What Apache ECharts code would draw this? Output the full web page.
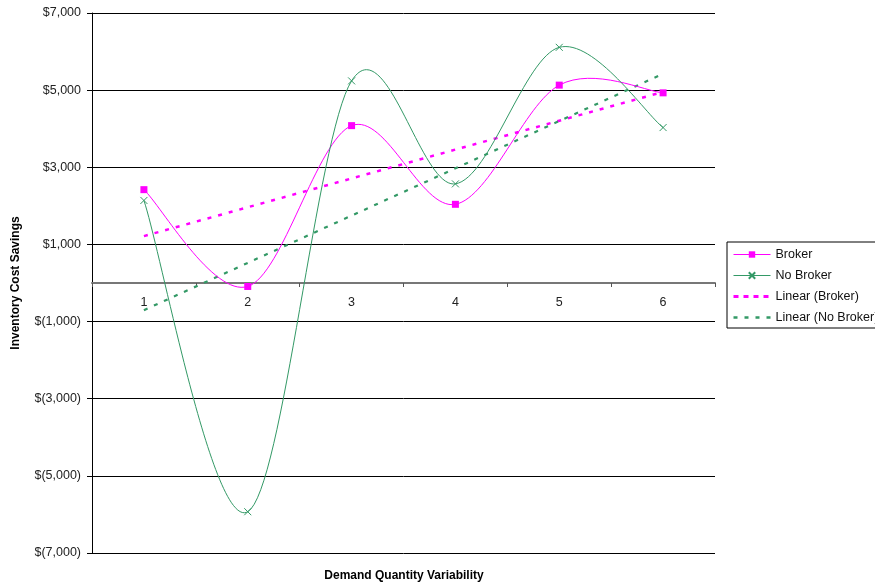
<!DOCTYPE html>
<html>
<head>
<meta charset="utf-8">
<script src="https://cdn.jsdelivr.net/npm/echarts@6/dist/echarts.min.js"></script>
<style>
  html, body { margin: 0; padding: 0; background: #fff; }
  #chart { width: 875px; height: 586px; }
</style>
</head>
<body>
<div id="chart"></div>
<script>
// Demand variability levels on the x axis
const categories = ['1', '2', '3', '4', '5', '6'];
// Inventory cost savings ($) per variability level
const brokerValues = [2420, -90, 4080, 2040, 5130, 4930];
const noBrokerValues = [2140, -5930, 5240, 2570, 6110, 4030];
// Labelled y-axis values (odd thousands)
const yTickValues = [-7000, -5000, -3000, -1000, 1000, 3000, 5000, 7000];

const PINK = '#FF00FF';
const GREEN = '#339966';
const Y_MIN = -7000;
const Y_MAX = 7000;

// Least-squares linear trend over x = 1..n, returned as endpoint pairs on the category axis
function linearTrend(values) {
  const n = values.length;
  let sx = 0, sy = 0, sxx = 0, sxy = 0;
  values.forEach((v, i) => {
    const x = i + 1;
    sx += x; sy += v; sxx += x * x; sxy += x * v;
  });
  const slope = (n * sxy - sx * sy) / (n * sxx - sx * sx);
  const intercept = (sy - slope * sx) / n;
  return [[0, intercept + slope * 1], [n - 1, intercept + slope * n]];
}

// Spreadsheet-style smoothed line: one cubic Bezier per segment, with
// tangents taken from the neighbouring points (Catmull-Rom, 1/6 tension).
function smoothSegment(values, color) {
  const last = values.length - 1;
  return function (params, api) {
    const i = params.dataIndex;
    if (i >= last) return null;
    const pt = k => {
      const j = Math.max(0, Math.min(last, k));
      return api.coord([j, values[j]]);
    };
    const p0 = pt(i - 1), p1 = pt(i), p2 = pt(i + 1), p3 = pt(i + 2);
    return {
      type: 'bezierCurve',
      shape: {
        x1: p1[0], y1: p1[1],
        x2: p2[0], y2: p2[1],
        cpx1: p1[0] + (p2[0] - p0[0]) / 6,
        cpy1: p1[1] + (p2[1] - p0[1]) / 6,
        cpx2: p2[0] - (p3[0] - p1[0]) / 6,
        cpy2: p2[1] - (p3[1] - p1[1]) / 6
      },
      style: { stroke: color, fill: null, lineWidth: 1 }
    };
  };
}

function money(v) {
  const s = Math.abs(v).toLocaleString('en-US');
  return v < 0 ? '$(' + s + ')' : '$' + s;
}

const FONT = '"Liberation Sans", Arial, sans-serif';
const chart = echarts.init(document.getElementById('chart'), null, { renderer: 'canvas' });

chart.setOption({
  animation: false,
  backgroundColor: '#fff',
  textStyle: { fontFamily: FONT },
  grid: { left: 92, right: 160, top: 13, bottom: 33, containLabel: false },
  xAxis: {
    type: 'category',
    data: categories,
    boundaryGap: true,
    position: 'bottom',
    // shift the category axis up onto the $0 line
    offset: -270,
    axisLine: { onZero: false, lineStyle: { color: '#777', width: 2 } },
    axisTick: { show: true, alignWithLabel: false, length: 4, lineStyle: { color: '#555' } },
    axisLabel: { color: '#222', fontSize: 12.5, margin: 13, fontFamily: FONT },
    splitLine: { show: false }
  },
  yAxis: {
    type: 'value',
    min: Y_MIN,
    max: Y_MAX,
    axisLine: { show: true, lineStyle: { color: '#000', width: 1 } },
    axisTick: { show: true, length: 5, customValues: yTickValues, lineStyle: { color: '#000' } },
    axisLabel: {
      customValues: yTickValues,
      color: '#222', fontSize: 12.5, margin: 11, fontFamily: FONT,
      formatter: money
    },
    splitLine: { show: true, lineStyle: { color: '#000', width: 1 } }
  },
  legend: {
    orient: 'vertical',
    left: 727,
    top: 242,
    padding: [6, 8, 4, 5],
    itemGap: 8,
    itemWidth: 37,
    itemHeight: 8,
    borderColor: '#000',
    borderWidth: 1,
    textStyle: { color: '#111', fontSize: 12.5, fontFamily: FONT },
    data: [
      { name: 'Broker', lineStyle: { width: 1 } },
      { name: 'No Broker', lineStyle: { width: 1 } },
      { name: 'Linear (Broker)', lineStyle: { width: 3, type: [5, 5] }, itemStyle: { opacity: 0 } },
      { name: 'Linear (No Broker)', lineStyle: { width: 2.5, type: [4, 7] }, itemStyle: { opacity: 0 } }
    ]
  },
  graphic: [
    {
      type: 'text',
      x: 16, y: 283,
      rotation: Math.PI / 2,
      style: {
        text: 'Inventory Cost Savings',
        font: 'bold 12px ' + FONT,
        fill: '#000',
        align: 'center',
        verticalAlign: 'middle'
      }
    },
    {
      type: 'text',
      x: 404, y: 576,
      style: {
        text: 'Demand Quantity Variability',
        font: 'bold 12px ' + FONT,
        fill: '#000',
        align: 'center',
        verticalAlign: 'middle'
      }
    }
  ],
  series: [
    {
      type: 'custom',
      data: brokerValues.map((v, i) => [i, v]),
      encode: { x: 0, y: 1 },
      renderItem: smoothSegment(brokerValues, PINK),
      clip: true,
      silent: true,
      z: 3
    },
    {
      type: 'custom',
      data: noBrokerValues.map((v, i) => [i, v]),
      encode: { x: 0, y: 1 },
      renderItem: smoothSegment(noBrokerValues, GREEN),
      clip: true,
      silent: true,
      z: 3
    },
    {
      name: 'Broker',
      type: 'line',
      data: brokerValues,
      symbol: 'rect',
      symbolSize: 7,
      showAllSymbol: true,
      // curve itself is drawn by the custom series above; this one carries the markers
      lineStyle: { color: PINK, width: 0 },
      itemStyle: { color: PINK, borderWidth: 0 },
      z: 5
    },
    {
      name: 'No Broker',
      type: 'line',
      data: noBrokerValues,
      symbol: 'path://M0,0L10,10M10,0L0,10',
      symbolSize: 7,
      showAllSymbol: true,
      lineStyle: { color: GREEN, width: 0 },
      itemStyle: { color: 'none', borderColor: GREEN, borderWidth: 1 },
      z: 4
    },
    {
      name: 'Linear (Broker)',
      type: 'line',
      data: linearTrend(brokerValues),
      symbol: 'none',
      lineStyle: { color: PINK, width: 2.5, type: [4, 7] },
      itemStyle: { color: PINK },
      z: 2
    },
    {
      name: 'Linear (No Broker)',
      type: 'line',
      data: linearTrend(noBrokerValues),
      symbol: 'none',
      lineStyle: { color: GREEN, width: 2.2, type: [4, 7] },
      itemStyle: { color: GREEN },
      z: 2
    }
  ]
});
</script>
</body>
</html>
